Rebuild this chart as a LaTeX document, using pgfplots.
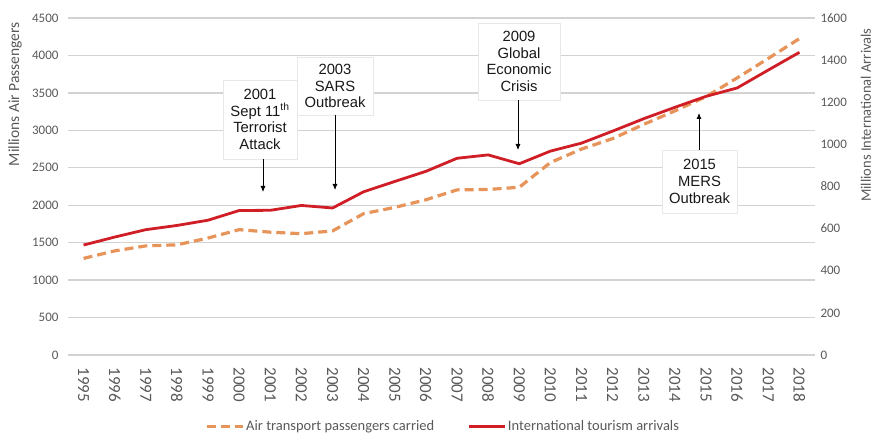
\documentclass[border=0pt]{standalone}
\usepackage{pgfplots}
\pgfplotsset{compat=1.18}
\usepackage{fontspec}
\setmainfont{Carlito}
\newfontfamily\arialfont{Liberation Sans}
\usetikzlibrary{arrows.meta}

\definecolor{gridgray}{RGB}{210,210,210}
\definecolor{ticktext}{RGB}{89,89,89}
\definecolor{airorange}{RGB}{231,148,90}
\definecolor{arrred}{RGB}{208,30,38}

\tikzset{
  airline/.style={color=airorange, line width=3.2bp, dash pattern=on 9bp off 5bp},
  arrline/.style={color=arrred, line width=2.8bp},
  eventbox/.style={fill=white, draw=gray!18, line width=0.8bp, align=center,
    inner sep=2bp, text=black!90,
    font=\arialfont\fontsize{14.8bp}{16.8bp}\selectfont},
  eventarrow/.style={-{Latex[length=6bp,width=5bp]}, line width=0.8bp, black},
}

% Air transport passengers carried (millions)
\pgfplotstableread{
year air
1995 1290
1996 1390
1997 1457
1998 1471
1999 1562
2000 1674
2001 1640
2002 1620
2003 1657
2004 1888
2005 1971
2006 2073
2007 2205
2008 2210
2009 2240
2010 2570
2011 2750
2012 2890
2013 3080
2014 3260
2015 3450
2016 3700
2017 3960
2018 4225
}\airtable

% International tourism arrivals (millions)
\pgfplotstableread{
year arr
1995 522
1996 560
1997 595
1998 615
1999 640
2000 686
2001 687
2002 710
2003 698
2004 775
2005 824
2006 872
2007 934
2008 950
2009 908
2010 968
2011 1006
2012 1063
2013 1122
2014 1176
2015 1228
2016 1268
2017 1353
2018 1437
}\arrtable

\begin{document}
\begin{tikzpicture}
\useasboundingbox (0bp,0bp) rectangle (875bp,435bp);

% left axis: passengers, grid and year labels
\begin{axis}[
  at={(68bp,80bp)}, anchor=south west,
  scale only axis, width=747bp, height=337bp,
  xmin=1994.5, xmax=2018.5, ymin=0, ymax=4500,
  xtick={1995,...,2018}, ytick={0,500,...,4500},
  ymajorgrids, grid style={gridgray, line width=1.4bp},
  axis line style={draw=none}, major tick length=0pt,
  /pgf/number format/assume math mode=true,
  /pgf/number format/1000 sep={},
  tick label style={text=ticktext},
  yticklabel style={font=\fontsize{13bp}{15bp}\selectfont, xshift=-6bp},
  xticklabel style={font=\fontsize{17bp}{19bp}\selectfont, rotate=-90, anchor=west, xshift=9bp, yshift=0bp},
  ylabel={Millions Air Passengers},
  ylabel style={at={(axis description cs:-0.071,0.774)}, anchor=center,
    font=\fontsize{15.5bp}{17bp}\selectfont, text=ticktext},
]
\addplot[airline] table[x=year, y=air] {\airtable};
\end{axis}

% right axis: tourism arrivals
\begin{axis}[
  at={(68bp,80bp)}, anchor=south west,
  scale only axis, width=747bp, height=337bp,
  xmin=1994.5, xmax=2018.5, ymin=0, ymax=1600,
  hide x axis, axis y line*=right,
  ytick={0,200,...,1600},
  axis line style={draw=none}, major tick length=0pt,
  /pgf/number format/assume math mode=true,
  /pgf/number format/1000 sep={},
  tick label style={text=ticktext},
  yticklabel style={font=\fontsize{13bp}{15bp}\selectfont, xshift=2bp},
  ylabel={Millions International Arrivals},
  ylabel style={at={(axis description cs:1.068,0.712)}, anchor=center,
    font=\fontsize{14.5bp}{16bp}\selectfont, text=ticktext},
  legend columns=2,
  legend style={at={(axis description cs:0.502,-0.211)}, anchor=center,
    draw=none, fill=none, text=ticktext,
    font=\fontsize{14.5bp}{16bp}\selectfont,
    /tikz/every even column/.append style={column sep=32bp},
    nodes={inner xsep=1.5bp}},
  legend image code/.code={\draw[#1] (0bp,0bp) -- (36bp,0bp);},
]
\addlegendimage{airline}
\addlegendentry{Air transport passengers carried}
\addplot[arrline] table[x=year, y=arr] {\arrtable};
\addlegendentry{International tourism arrivals}
\end{axis}

% event call-outs
\node[eventbox, minimum width=74bp, minimum height=79bp] at (260bp,315.5bp)
  {2001\\Sept 11\textsuperscript{th}\\Terrorist\\Attack};
\draw[eventarrow] (263bp,276bp) -- (263bp,243bp);

\node[eventbox, minimum width=76bp, minimum height=58bp] at (335bp,349bp)
  {2003\\SARS\\Outbreak};
\draw[eventarrow] (335bp,320bp) -- (335bp,245bp);

\node[eventbox, minimum width=82bp, minimum height=77bp] at (519bp,373.5bp)
  {2009\\Global\\Economic\\Crisis};
\draw[eventarrow] (518bp,335bp) -- (518bp,285bp);

\node[eventbox, minimum width=75bp, minimum height=63bp] at (699.5bp,253.5bp)
  {2015\\MERS\\Outbreak};
\draw[eventarrow] (699bp,285bp) -- (699bp,322bp);
\end{tikzpicture}
\end{document}
